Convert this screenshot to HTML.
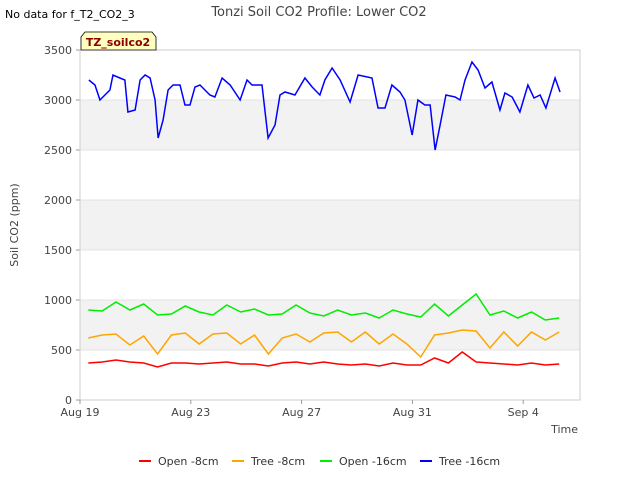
<!DOCTYPE html>
<html><head><meta charset="utf-8"><style>
body{margin:0;background:#fff;font-family:"DejaVu Sans","Liberation Sans",sans-serif}
svg text{font-family:"DejaVu Sans","Liberation Sans",sans-serif}
</style></head><body>
<svg id="chart" width="640" height="480">
<text x="5" y="18" font-size="11">No data for f_T2_CO2_3</text>
<text x="319" y="16" font-size="13" fill="#444" text-anchor="middle">Tonzi Soil CO2 Profile: Lower CO2</text>
<g id="plot"></g>
<g>
<path d="M81,50 L81,37 L85,32 L152,32 L156,37 L156,50 Z" fill="#ffffc0" stroke="#000" stroke-width="0.8"/>
<text x="118" y="46" font-size="11" font-weight="bold" fill="#8b0000" text-anchor="middle">TZ_soilco2</text>
</g>
<text x="18" y="225" font-size="11" fill="#444" text-anchor="middle" transform="rotate(-90 18 225)">Soil CO2 (ppm)</text>
<text x="578" y="433" font-size="11" fill="#444" text-anchor="end">Time</text>
<g id="legend"></g>
</svg>
<script>
const tickDays=[0,4,8,12,16];
const tickLabels=["Aug 19","Aug 23","Aug 27","Aug 31","Sep 4"];
const yTicks=[0,500,1000,1500,2000,2500,3000,3500];
const seriesNames=["Open -8cm","Tree -8cm","Open -16cm","Tree -16cm"];
const seriesColors=["#ff0000","#ffa500","#00ee00","#0000ff"];
const days=[0.3,0.8,1.3,1.8,2.3,2.8,3.3,3.8,4.3,4.8,5.3,5.8,6.3,6.8,7.3,7.8,8.3,8.8,9.3,9.8,10.3,10.8,11.3,11.8,12.3,12.8,13.3,13.8,14.3,14.8,15.3,15.8,16.3,16.8,17.3];
const open8=[370,380,400,380,370,330,370,370,360,370,380,360,360,340,370,380,360,380,360,350,360,340,370,350,350,420,370,480,380,370,360,350,370,350,360];
const tree8=[620,650,660,550,640,460,650,670,560,660,670,560,650,460,620,660,580,670,680,580,680,560,660,560,430,650,670,700,690,520,680,540,680,600,680];
const open16=[900,890,980,900,960,850,860,940,880,850,950,880,910,850,860,950,870,840,900,850,870,820,900,860,830,960,840,950,1060,850,890,820,880,800,820];
const treeDays=[0.32,0.54,0.72,0.9,1.08,1.19,1.44,1.62,1.73,1.99,2.17,2.35,2.53,2.71,2.82,3.0,3.18,3.36,3.61,3.79,3.97,4.15,4.33,4.69,4.87,5.13,5.42,5.78,6.03,6.21,6.57,6.79,7.04,7.22,7.4,7.76,8.12,8.38,8.66,8.84,9.1,9.39,9.75,10.04,10.54,10.76,11.01,11.26,11.55,11.73,11.99,12.2,12.45,12.64,12.82,13.0,13.21,13.54,13.72,13.9,14.15,14.37,14.62,14.87,15.16,15.34,15.6,15.88,16.17,16.39,16.61,16.82,17.15,17.33];
const tree16=[3200,3150,3000,3050,3100,3250,3220,3200,2880,2900,3200,3250,3220,3000,2620,2800,3100,3150,3150,2950,2950,3130,3150,3050,3030,3220,3150,3000,3200,3150,3150,2620,2750,3050,3080,3050,3220,3130,3050,3200,3320,3200,2980,3250,3220,2920,2920,3150,3080,3000,2650,3000,2950,2950,2500,2750,3050,3030,3000,3200,3380,3300,3120,3180,2900,3070,3030,2880,3150,3020,3050,2920,3220,3080];
const X0=80,X1=580,Y0=400,Y1=50,DMAX=18.05,VMAX=3500;
const xs=d=>X0+(d/DMAX)*(X1-X0);
const ys=v=>Y0-(v/VMAX)*(Y0-Y1);
const NS="http://www.w3.org/2000/svg";
const plot=document.getElementById('plot');
function mk(tag,attrs,parent){const e=document.createElementNS(NS,tag);for(const k in attrs)e.setAttribute(k,attrs[k]);parent.appendChild(e);return e;}
// bands
for(let i=1;i<yTicks.length-1;i+=2){
 const b=mk('rect',{x:X0,y:ys(yTicks[i+1]),width:X1-X0,height:ys(yTicks[i])-ys(yTicks[i+1]),fill:'#f2f2f2'},plot);
 
 
}
yTicks.forEach(v=>{
 const l=mk('line',{x1:X0,x2:X1,y1:ys(v),y2:ys(v),stroke:'#ddd','stroke-width':0.8},plot);
 
 
 const t=mk('text',{x:X0-8,y:ys(v)+4,'font-size':11,fill:'#444','text-anchor':'end'},plot);
 t.textContent=v;
 
 
 mk('line',{x1:X0-4,x2:X0,y1:ys(v),y2:ys(v),stroke:'#999'},plot);
});
const frame=mk('rect',{x:X0,y:Y1,width:X1-X0,height:Y0-Y1,fill:'none',stroke:'#ccc'},plot);


tickDays.forEach((d,i)=>{
 mk('line',{x1:xs(d),x2:xs(d),y1:Y0,y2:Y0+4,stroke:'#999'},plot);
 const t=mk('text',{x:xs(d),y:Y0+16,'font-size':11,fill:'#444','text-anchor':'middle'},plot);
 t.textContent=tickLabels[i];
 
 
});
function line(dd,vv,color,name){
 const p=mk('polyline',{points:dd.map((d,i)=>xs(d)+','+ys(vv[i])).join(' '),fill:'none',stroke:color,'stroke-width':1.5},plot);
 
 
}
line(days,open8,seriesColors[0],'series-open-8cm');
line(days,tree8,seriesColors[1],'series-tree-8cm');
line(days,open16,seriesColors[2],'series-open-16cm');
line(treeDays,tree16,seriesColors[3],'series-tree-16cm');
const lg=document.getElementById('legend');
const lx=[139,232,320,420];
seriesNames.forEach((n,i)=>{
 const g=mk('g',{},lg);
 
 
 mk('line',{x1:lx[i],x2:lx[i]+12,y1:461,y2:461,stroke:seriesColors[i],'stroke-width':2},g);
 const t=mk('text',{x:lx[i]+19,y:465,'font-size':11,fill:'#333'},g);
 t.textContent=n;
});
</script>
</body></html>
